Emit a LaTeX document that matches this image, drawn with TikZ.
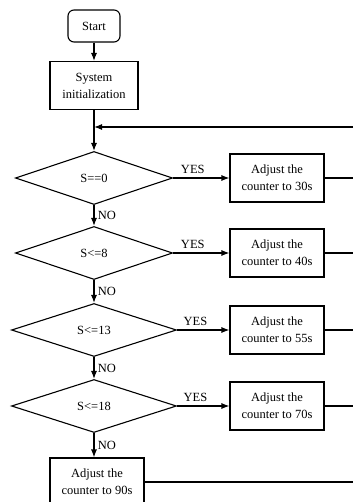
\documentclass[tikz,border=0pt]{standalone}
\usepackage{fontspec}
\setmainfont{Liberation Serif}
\usetikzlibrary{shapes.geometric,arrows.meta}

\begin{document}
\begin{tikzpicture}[x=1pt,y=-1pt,line width=1.1pt,>={Latex[length=8pt,width=6pt]},
  font=\fontsize{12.5}{17}\selectfont,
  box/.style={draw,rectangle,minimum width=94pt,minimum height=48pt,align=center,inner sep=0pt},
  cond/.style={draw,diamond,aspect=3,minimum height=53pt,inner sep=0pt}]
\clip (0,0) rectangle (353,502);
\node[draw,rounded corners=6pt,minimum width=52pt,minimum height=32pt] (start) at (94,26) {Start};
\node[box,minimum width=88pt] (init) at (94,85.5) {System\\initialization};
\coordinate (loop) at (94,127);
\coordinate (loopr) at (353,127);
\foreach \i/\y/\w/\lbl/\tm in {1/178/157/S==0/30, 2/253/157/S<=8/40, 3/330/165/S<=13/55, 4/406/165/S<=18/70}{
  \node[cond,minimum width=\w pt] (d\i) at (94,\y) {\lbl};
  \node[box] (a\i) at (277,\y) {Adjust the\\counter to \tm s};
  \coordinate (r\i) at (353,\y);
  \draw[->] (d\i) -- node[pos=0.35,above] {YES} (a\i);
  \draw (a\i) -- (r\i);
}
\node[box] (a5) at (97,482) {Adjust the\\counter to 90s};
\coordinate (r5) at (353,482);
\draw[->] (start) -- (init);
\draw[->] (init) -- (d1);
\draw[->] (loopr) -- (loop);
\draw[->] (d1) -- node[right] {NO} (d2);
\draw[->] (d2) -- node[right] {NO} (d3);
\draw[->] (d3) -- node[right] {NO} (d4);
\draw[->] (d4.south) -- node[right] {NO} (d4.south |- a5.north);
\draw (a5) -- (r5);
\end{tikzpicture}
\end{document}
